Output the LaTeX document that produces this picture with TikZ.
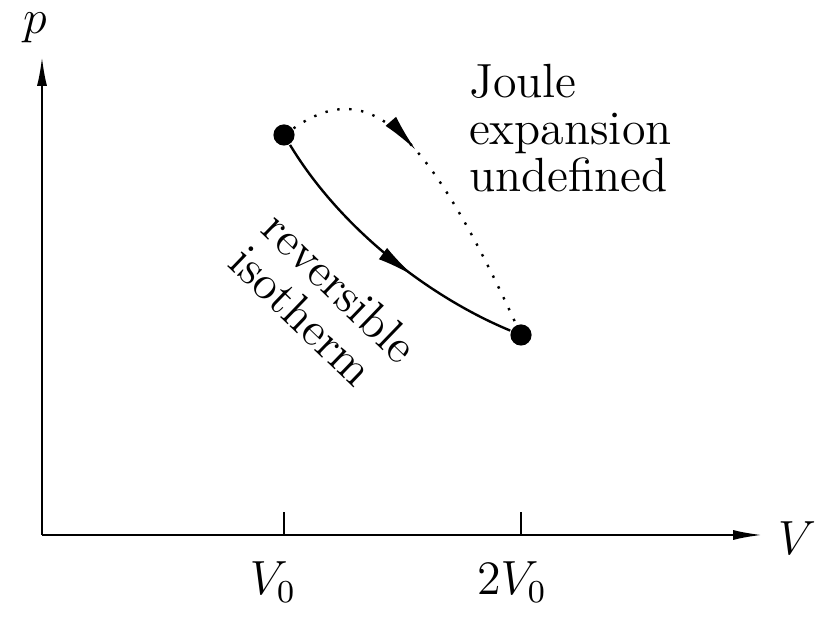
\documentclass[tikz,border=0pt]{standalone}
\usepackage{amsmath}
\usetikzlibrary{arrows.meta,decorations.markings}

\begin{document}
\begin{tikzpicture}[
  x=0.25pt, y=0.25pt, line width=0.5pt,
  txt/.style={font=\fontsize{12}{11.75}\selectfont, inner sep=0pt},
  state/.style={circle,fill,inner sep=0pt,minimum size=5.3pt},
  axis/.style={-{Latex[length=7.2pt,width=2.5pt]}},
  midarrow/.style={postaction={decorate},decoration={markings,mark=at position #1 with {\arrow{Latex[length=9.5pt,width=3.5pt]}}}}
]
  \useasboundingbox (0,0) rectangle (826,620);
  \coordinate (o) at (42,85);
  \coordinate (ytop) at (42,563);
  \coordinate (xend) at (762,85);
  \coordinate (t1) at (284,85);
  \coordinate (t1top) at (284,108);
  \coordinate (t2) at (521,85);
  \coordinate (t2top) at (521,108);
  \node[state] (a) at (284,485) {};
  \node[state] (b) at (521,285) {};
  \node[txt,anchor=base] (plab) at (35,586) {$p$};
  \node[txt,anchor=base] (vlab) at (797,65) {$V$};
  \node[txt,anchor=base] (v0lab) at (273,25) {$V_0$};
  \node[txt,anchor=base] (v2lab) at (512,25) {$2V_0$};
  \node[txt,anchor=north west,align=left] (joule) at (468,557) {Joule\\expansion\\undefined};
  \node[txt,rotate=-44,align=left] (isolab) at (324,316) {reversible\\isotherm};
  \draw[axis] (o) -- (ytop);
  \draw[axis] (o) -- (xend);
  \draw (t1) -- (t1top);
  \draw (t2) -- (t2top);
  \draw[line width=0.6pt,midarrow=0.62] (a) .. controls (344,386) and (436,320) .. (b);
  \draw[line width=0.6pt,dash pattern=on 0.6pt off 2.4pt,midarrow=0.41] (a) .. controls (366,542) and (422,500) .. (b);
\end{tikzpicture}
\end{document}
